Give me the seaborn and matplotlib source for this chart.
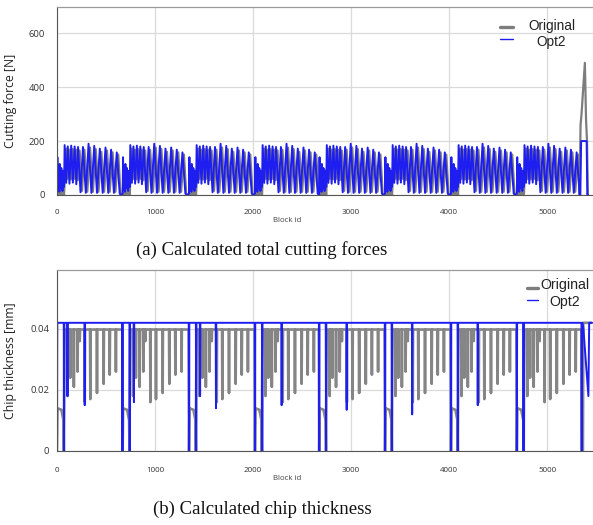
import matplotlib
matplotlib.use("Agg")
import matplotlib.pyplot as plt
import seaborn as sns
from matplotlib.lines import Line2D
from matplotlib.ticker import MultipleLocator, FixedLocator

W, H = 593, 525

# ---------------- data ----------------
# start block of each machining pass
segment_starts = [0, 670, 1347, 2020, 2675, 3347, 4020, 4692]

# (a) cutting force [N] over one pass: block offset -> value
force_opt2_offset = [0, 4, 8, 12, 16, 20, 24, 28, 32, 36, 40, 44, 48, 52, 56, 60, 64, 68, 72,
                     78, 94, 110, 127, 145, 162, 180, 197, 215,
                     240, 265, 294, 322, 351, 380, 408, 437, 466, 495, 523, 552, 581, 610, 640, 655]
force_opt2_value = [5, 140, 20, 105, 35, 95, 12, 115, 45, 80, 25, 100, 55, 70, 15, 90, 40, 60, 30,
                    185, 45, 180, 42, 183, 46, 180, 40, 178,
                    10, 178, 8, 190, 8, 182, 8, 172, 8, 176, 8, 168, 8, 158, 5, 0]
force_orig_offset = [0, 4, 8, 12, 16, 20, 24, 28, 32, 36, 40, 44, 48, 52, 56, 60, 64, 68, 72,
                     92, 108, 125, 142, 160, 177, 195, 212, 230,
                     255, 280, 309, 337, 366, 395, 423, 452, 481, 510, 538, 567, 596, 625, 648, 660]
force_orig_value = [0, 28, 5, 22, 0, 30, 8, 25, 2, 20, 0, 30, 5, 24, 0, 18, 6, 12, 0,
                    172, 60, 168, 58, 170, 60, 168, 55, 165,
                    15, 168, 12, 176, 12, 170, 12, 160, 12, 165, 12, 158, 12, 150, 5, 0]
force_last_pass_max_offset = 640
# final spike
force_end_opt2_block = [5340, 5348, 5404, 5411, 5420]
force_end_opt2_value = [0, 200, 200, 0, 0]
force_end_orig_block = [5332, 5342, 5352, 5386, 5398, 5408, 5417]
force_end_orig_value = [0, 260, 300, 490, 280, 200, 0]

# (b) chip thickness [mm]
chip_opt2_level = 0.042
chip_opt2_zero_block = [0, 72, 668, 742, 1347, 1420, 2020, 2094, 2675, 2745,
                        3347, 3417, 4020, 4090, 4692, 4760, 5354]
chip_opt2_dip_block = [107, 283, 785, 1460, 1622, 2292, 2956, 3624, 4293]
chip_opt2_dip_value = [0.018, 0.015, 0.016, 0.018, 0.014, 0.015, 0.0135, 0.012, 0.015]
chip_opt2_end_block = [5362, 5371, 5422, 5430, 5460]
chip_opt2_end_value = [0.042, 0.040, 0.018, 0.042, 0.042]

chip_orig_level = 0.0398
chip_orig_start_offset = [0, 4, 45, 66, 70, 76]
chip_orig_start_value = [0, 0.014, 0.0135, 0.010, 0, 0.0398]
chip_orig_dip_offset = [107, 135, 172, 210, 232, 283, 340, 408, 476, 538, 601]
chip_orig_dip_value = [0.018, 0.024, 0.021, 0.026, 0.036, 0.016, 0.017, 0.019, 0.022, 0.025, 0.026]
chip_orig_end_block = [5354, 5366, 5370, 5452]
chip_orig_end_value = [0, 0, 0.042, 0.042]

x_ticks = [0, 1000, 2000, 3000, 4000, 5000]
force_ticks = [0, 200, 400, 600]
chip_ticks = [0, 0.02, 0.04]
chip_tick_labels = ["0", "0.02", "0.04"]

series_names = ["Original", "Opt2"]
captions = ["(a) Calculated total cutting forces", "(b) Calculated chip thickness"]

GREY = "#7d7d7d"
BLUE = "#1e1ef0"
HW = 3  # half width of a dip, in blocks


# ---------------- trace building ----------------
def repeat_pass(offsets, values, starts, last_max=None):
    xs, ys = [], []
    for i, s in enumerate(starts):
        for r, v in zip(offsets, values):
            if last_max is not None and i == len(starts) - 1 and r > last_max:
                continue
            xs.append(s + r)
            ys.append(v)
    return xs, ys


fx_opt, fy_opt = repeat_pass(force_opt2_offset, force_opt2_value, segment_starts,
                             force_last_pass_max_offset)
fx_opt += force_end_opt2_block
fy_opt += force_end_opt2_value
fx_org, fy_org = repeat_pass(force_orig_offset, force_orig_value, segment_starts,
                             force_last_pass_max_offset)
fx_org += force_end_orig_block
fy_org += force_end_orig_value

# Opt2 chip thickness
events = sorted([(b, 0.0) for b in chip_opt2_zero_block] +
                list(zip(chip_opt2_dip_block, chip_opt2_dip_value)))
cx_opt, cy_opt = [], []
for b, d in events:
    cx_opt += [b - HW, b, b + HW]
    cy_opt += [chip_opt2_level, d, chip_opt2_level]
cx_opt += chip_opt2_end_block
cy_opt += chip_opt2_end_value

# Original chip thickness
cx_org, cy_org = [], []
pass_ends = segment_starts[1:] + [chip_orig_end_block[0]]
for s, e in zip(segment_starts, pass_ends):
    cx_org += [s + r for r in chip_orig_start_offset]
    cy_org += list(chip_orig_start_value)
    for r, d in zip(chip_orig_dip_offset, chip_orig_dip_value):
        cx_org += [s + r - HW, s + r, s + r + HW]
        cy_org += [chip_orig_level, d, chip_orig_level]
    cx_org.append(e - HW)
    cy_org.append(chip_orig_level)
cx_org += chip_orig_end_block
cy_org += chip_orig_end_value

# ---------------- figure ----------------
sns.set_style("white")
plt.rcParams["font.family"] = ["Open Sans", "DejaVu Sans"]

fig = plt.figure(figsize=(W / 100, H / 100), dpi=100)
ax1 = fig.add_axes([57 / W, 1 - 195 / H, (W - 57) / W, (195 - 7) / H])
ax2 = fig.add_axes([57 / W, 1 - 451 / H, (W - 57) / W, (451 - 270) / H])

sns.lineplot(x=fx_org, y=fy_org, ax=ax1, color=GREY, lw=1.6, sort=False, estimator=None)
sns.lineplot(x=fx_opt, y=fy_opt, ax=ax1, color=BLUE, lw=1.4, sort=False, estimator=None)
sns.lineplot(x=cx_org, y=cy_org, ax=ax2, color="#858585", lw=1.9, sort=False, estimator=None)
sns.lineplot(x=cx_opt, y=cy_opt, ax=ax2, color=BLUE, lw=1.4, sort=False, estimator=None)

ax1.set_ylim(0, 697)
ax2.set_ylim(0, 0.0593)
ax1.yaxis.set_major_locator(FixedLocator(force_ticks))
ax1.yaxis.set_minor_locator(MultipleLocator(50))
ax2.yaxis.set_major_locator(FixedLocator(chip_ticks))
ax2.set_yticklabels(chip_tick_labels)
ax2.yaxis.set_minor_locator(MultipleLocator(0.005))

for ax, ylab, ypad, xpad in [(ax1, "Cutting force [N]", 5.5, 7.3),
                             (ax2, "Chip thickness [mm]", 2.5, 8.3)]:
    ax.set_xlim(0, 5469)
    ax.xaxis.set_major_locator(FixedLocator(x_ticks))
    ax.xaxis.set_minor_locator(MultipleLocator(200))
    ax.grid(True, which="major", color="#dadada", lw=0.9)
    ax.set_axisbelow(True)
    for side in ["left", "bottom"]:
        ax.spines[side].set_color("#555555")
        ax.spines[side].set_linewidth(0.8)
    ax.spines["top"].set_color("#9a9a9a")
    ax.spines["top"].set_linewidth(0.9)
    ax.spines["right"].set_visible(False)
    ax.tick_params(axis="both", which="both", direction="out", color="#555555",
                   width=0.7, labelcolor="#333333")
    ax.tick_params(axis="both", which="major", length=3)
    ax.tick_params(axis="both", which="minor", length=2.2)
    ax.tick_params(axis="x", which="major", labelsize=5.8, pad=xpad)
    ax.tick_params(axis="y", which="major", labelsize=6.8, pad=ypad)
    ax.set_ylabel(ylab, fontsize=8.8, color="#222222", labelpad=2)
    ax.set_xlabel("Block id", fontsize=5.7, color="#444444")
    ax.xaxis.set_label_coords(0.429, -0.118 if ax is ax1 else -0.13)
    ax.yaxis.set_label_coords(-0.075, 0.5)

# legends (drawn by hand to mimic the centred entries)
def legend(y_orig, y_opt, hx0, hx1, hy_orig, hy_opt, tx, fs):
    fig.add_artist(Line2D([hx0 / W, hx1 / W], [1 - hy_orig / H] * 2, color=GREY, lw=2.4,
                          transform=fig.transFigure))
    fig.add_artist(Line2D([hx0 / W, hx1 / W], [1 - hy_opt / H] * 2, color=BLUE, lw=1.0,
                          transform=fig.transFigure))
    fig.text(tx / W, 1 - y_orig / H, series_names[0], ha="center", va="center", fontsize=fs,
             family="Liberation Sans", color="#222222")
    fig.text(tx / W, 1 - y_opt / H, series_names[1], ha="center", va="center", fontsize=fs,
             family="Liberation Sans", color="#222222")

legend(26, 42, 500, 513, 27, 39, 551.5, 9.8)
legend(285, 302, 527, 538, 288, 300, 565, 10.2)

fig.text(262 / W, 1 - 250 / H, captions[0], ha="center", va="center", fontsize=13.5,
         family="Liberation Serif", color="#111111")
fig.text(262 / W, 1 - 509 / H, captions[1], ha="center", va="center", fontsize=13.5,
         family="Liberation Serif", color="#111111")

fig.savefig("out.png", dpi=100)
